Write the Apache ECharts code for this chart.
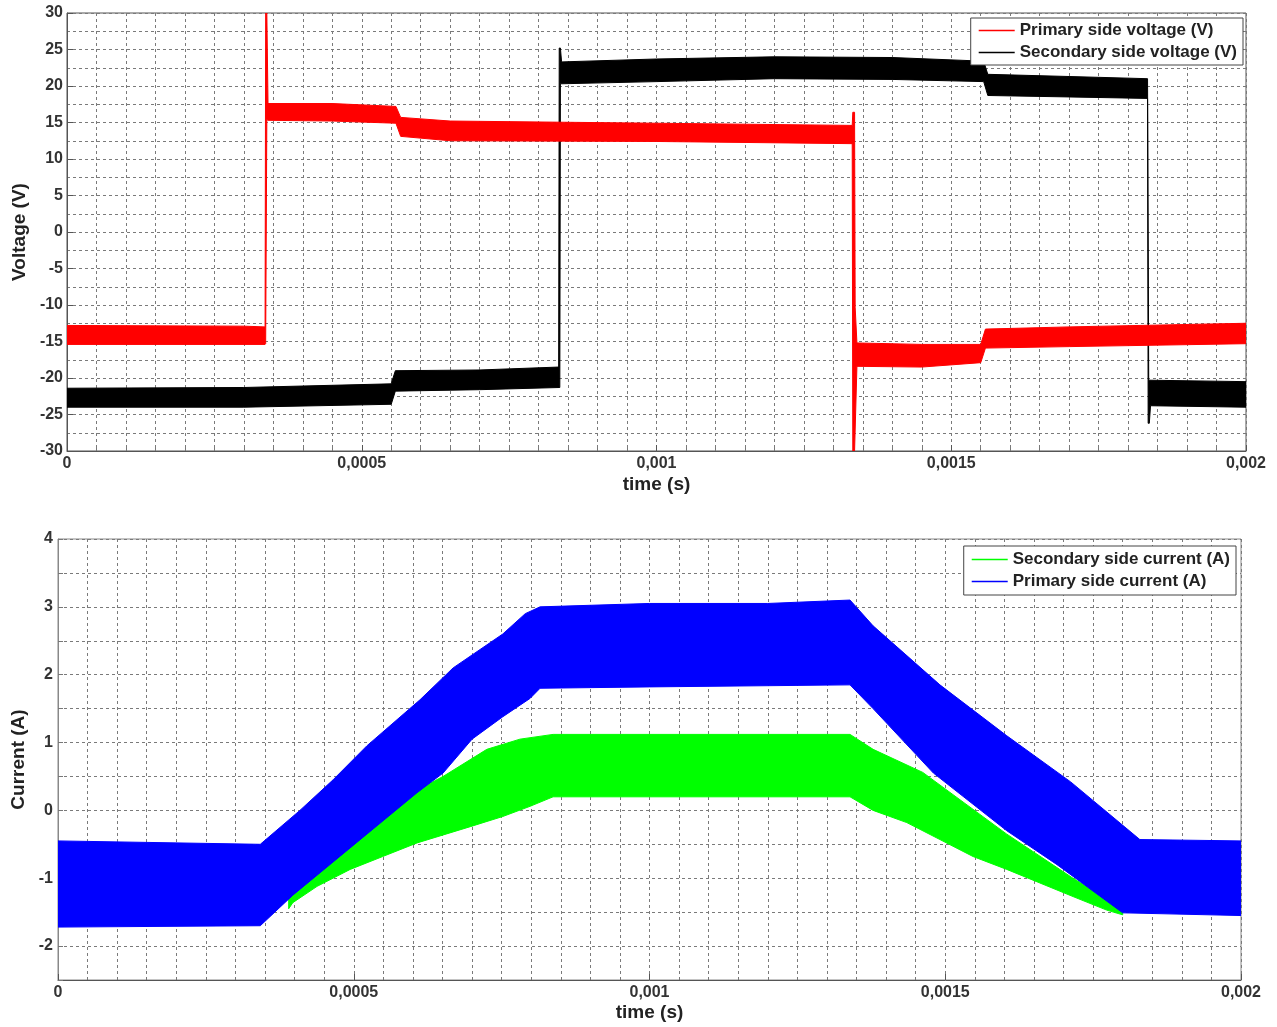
<!DOCTYPE html>
<html><head><meta charset="utf-8">
<script src="https://cdn.jsdelivr.net/npm/echarts@6/dist/echarts.min.js"></script>
<style>html,body{margin:0;padding:0;background:#fff}#c{width:1277px;height:1027px}</style>
</head><body><div id="c"></div>
<script>
// ---- tick labels ----
const timeTickLabels = ['0', '0,0005', '0,001', '0,0015', '0,002'];
const timeTickStep = 0.0005;

// ---- Top chart: voltage envelopes [time (s), V] ----
const primaryVoltUpper = [[0,-12.8],[0.000300,-12.9],[0.000336,-13.0],[0.000337,30],[0.000339,30],[0.000341,17.6],[0.000450,17.6],[0.000558,17.2],[0.000566,15.7],[0.000650,15.2],[0.001000,14.9],[0.001332,14.6],[0.001333,16.4],[0.001336,16.4],[0.001337,-10.3],[0.001340,-15.2],[0.001450,-15.4],[0.001550,-15.4],[0.001558,-13.3],[0.001700,-13.0],[0.002,-12.5]];
const primaryVoltLower = [[0,-15.4],[0.000336,-15.4],[0.000337,-15.3],[0.000339,15.4],[0.000341,15.3],[0.000450,15.2],[0.000558,14.9],[0.000566,13.1],[0.000650,12.5],[0.001000,12.4],[0.001332,12.1],[0.001333,-30],[0.001336,-30],[0.001340,-18.4],[0.001450,-18.5],[0.001550,-17.9],[0.001558,-15.9],[0.001700,-15.7],[0.002,-15.3]];
const secondaryVoltUpper = [[0,-21.4],[0.000300,-21.3],[0.000550,-20.8],[0.000557,-19.0],[0.000700,-18.9],[0.000834,-18.5],[0.000835,25.2],[0.000837,25.2],[0.000839,23.3],[0.001000,23.7],[0.001200,24.0],[0.001400,23.9],[0.001555,23.4],[0.001562,21.6],[0.001700,21.3],[0.001833,21.0],[0.001835,-20.3],[0.002,-20.5]];
const secondaryVoltLower = [[0,-24.0],[0.000300,-24.0],[0.000550,-23.6],[0.000557,-21.8],[0.000700,-21.6],[0.000836,-21.3],[0.000837,20.3],[0.001000,20.6],[0.001200,21.0],[0.001400,20.9],[0.001555,20.6],[0.001562,18.7],[0.001700,18.5],[0.001833,18.3],[0.001834,-26.2],[0.001836,-26.2],[0.001838,-23.8],[0.002,-24.0]];

// ---- Bottom chart: current envelopes [time (s), A] ----
const primaryCurUpper = [[0,-0.45],[0.000342,-0.5],[0.000409,0.0],[0.000465,0.45],[0.000522,0.95],[0.000612,1.63],[0.000668,2.1],[0.000752,2.6],[0.000790,2.9],[0.000815,3.0],[0.001000,3.05],[0.001200,3.05],[0.001339,3.1],[0.001378,2.72],[0.001491,1.85],[0.001604,1.1],[0.001712,0.42],[0.001829,-0.43],[0.002,-0.45]];
const primaryCurLower = [[0,-1.72],[0.000342,-1.7],[0.000397,-1.25],[0.000607,0.26],[0.000651,0.55],[0.000700,1.05],[0.000752,1.38],[0.000798,1.65],[0.000815,1.8],[0.001000,1.82],[0.001339,1.85],[0.001378,1.5],[0.001480,0.55],[0.001604,-0.3],[0.001689,-0.8],[0.001800,-1.51],[0.002,-1.55]];
const secondaryCurUpper = [[0.000390,-1.2],[0.000500,-0.35],[0.000607,0.3],[0.000651,0.5],[0.000725,0.9],[0.000781,1.05],[0.000837,1.12],[0.001339,1.12],[0.001378,0.9],[0.001462,0.56],[0.001604,-0.35],[0.001716,-1.0],[0.001800,-1.45]];
const secondaryCurLower = [[0.000390,-1.45],[0.000397,-1.36],[0.000438,-1.12],[0.000494,-0.87],[0.000549,-0.68],[0.000607,-0.48],[0.000697,-0.24],[0.000752,-0.09],[0.000798,0.06],[0.000837,0.2],[0.001339,0.2],[0.001378,0.0],[0.001435,-0.18],[0.001491,-0.43],[0.001547,-0.68],[0.001604,-0.87],[0.001660,-1.07],[0.001716,-1.27],[0.001773,-1.47],[0.001800,-1.54]];

const names = {
  pv: 'Primary side voltage (V)', sv: 'Secondary side voltage (V)',
  sc: 'Secondary side current (A)', pc: 'Primary side current (A)'
};
const colors = { pv: '#ff0000', sv: '#000000', sc: '#00ff00', pc: '#0000ff' };

const FONT = "'Liberation Sans', Arial, sans-serif";

function band(name, upper, lower, color, idx) {
  return {
    type: 'custom', name: name, xAxisIndex: idx, yAxisIndex: idx, clip: true,
    data: upper.concat(lower), encode: { x: 0, y: 1 },
    itemStyle: { color: color },
    renderItem: function (params, api) {
      if (params.dataIndex !== 0) return null;
      const pts = upper.map(p => api.coord(p)).concat(lower.slice().reverse().map(p => api.coord(p)));
      return { type: 'polygon', shape: { points: pts }, style: { fill: color, stroke: color, lineWidth: 1 } };
    }
  };
}

const gridLine = { show: true, lineStyle: { color: '#7a7a7a', width: 1, type: [3, 3] } };
const labelStyle = { color: '#333', fontFamily: FONT, fontSize: 16, fontWeight: 'bold' };
const nameStyle = { color: '#222', fontFamily: FONT, fontSize: 19, fontWeight: 'bold' };
const legendText = { color: '#222', fontFamily: FONT, fontSize: 17, fontWeight: 'bold' };

function timeAxis(idx) {
  return {
    type: 'value', gridIndex: idx, min: 0, max: 0.002, interval: timeTickStep,
    name: 'time (s)', nameLocation: 'middle', nameGap: idx === 0 ? 24 : 23, nameTextStyle: nameStyle,
    axisLine: { show: true, onZero: false, lineStyle: { color: '#555' } },
    axisTick: { show: true, inside: true, length: 6, lineStyle: { color: '#555' } },
    minorTick: { show: true, splitNumber: 10, length: 3, lineStyle: { color: '#777' } },
    splitLine: gridLine,
    minorSplitLine: gridLine,
    axisLabel: Object.assign({ margin: 5, formatter: v => timeTickLabels[Math.round(v / timeTickStep)] }, labelStyle)
  };
}

const option = {
  animation: false,
  backgroundColor: '#fff',
  grid: [
    { left: 67, right: 31, top: 13, height: 438, show: true, borderColor: '#555', borderWidth: 1, backgroundColor: '#fff' },
    { left: 58, right: 36, top: 539, height: 441, show: true, borderColor: '#888', borderWidth: 1, backgroundColor: '#fff' }
  ],
  xAxis: [timeAxis(0), timeAxis(1)],
  yAxis: [
    {
      type: 'value', gridIndex: 0, min: -30, max: 30, interval: 5,
      name: 'Voltage (V)', nameLocation: 'middle', nameGap: 37, nameTextStyle: nameStyle,
      axisLine: { show: true, onZero: false, lineStyle: { color: '#555' } },
      axisTick: { show: true, inside: true, length: 6, lineStyle: { color: '#555' } },
      minorTick: { show: false, splitNumber: 2 },
      splitLine: gridLine, minorSplitLine: gridLine,
      axisLabel: Object.assign({ margin: 4 }, labelStyle)
    },
    {
      type: 'value', gridIndex: 1, min: -2.5, max: 4, interval: 0.5,
      name: 'Current (A)', nameLocation: 'middle', nameGap: 30, nameTextStyle: nameStyle,
      axisLine: { show: true, onZero: false, lineStyle: { color: '#888' } },
      axisTick: { show: true, inside: true, length: 5, lineStyle: { color: '#777' } },
      splitLine: gridLine,
      axisLabel: Object.assign({ margin: 5, formatter: v => (Math.abs(v - Math.round(v)) < 1e-9 && v > -2.5) ? String(Math.round(v)) : '' }, labelStyle)
    }
  ],
  legend: [
    {
      data: [names.pv, names.sv], orient: 'vertical', right: 34, top: 18,
      backgroundColor: '#fff', borderColor: '#444', borderWidth: 1, borderRadius: 0,
      padding: [4, 6, 4, 8], itemGap: 5, itemWidth: 36, itemHeight: 1.5, icon: 'rect',
      textStyle: legendText
    },
    {
      data: [names.sc, names.pc], orient: 'vertical', right: 41, top: 546,
      backgroundColor: '#fff', borderColor: '#444', borderWidth: 1, borderRadius: 0,
      padding: [5, 6, 5, 8], itemGap: 5, itemWidth: 36, itemHeight: 1.5, icon: 'rect',
      textStyle: legendText
    }
  ],
  series: [
    band(names.sv, secondaryVoltUpper, secondaryVoltLower, colors.sv, 0),
    band(names.pv, primaryVoltUpper, primaryVoltLower, colors.pv, 0),
    band(names.sc, secondaryCurUpper, secondaryCurLower, colors.sc, 1),
    band(names.pc, primaryCurUpper, primaryCurLower, colors.pc, 1)
  ]
};

const chart = echarts.init(document.getElementById('c'), null, { renderer: 'canvas' });
chart.setOption(option);
</script>
</body></html>
